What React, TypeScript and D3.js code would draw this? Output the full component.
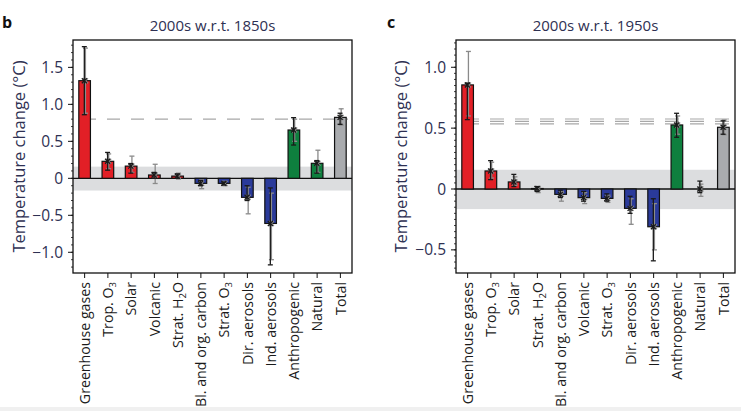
import React from 'react';
import * as d3 from 'd3';

// panel b: 2000s w.r.t. 1850s
const catsB = ['Greenhouse gases', 'Trop. O3', 'Solar', 'Volcanic', 'Strat. H2O', 'Bl. and org. carbon', 'Strat. O3', 'Dir. aerosols', 'Ind. aerosols', 'Anthropogenic', 'Natural', 'Total'];
const kindB = ['f', 'f', 'f', 'f', 'f', 'f', 'f', 'f', 'f', 's', 's', 't'];
const valB = [1.32, 0.23, 0.165, 0.045, 0.03, -0.068, -0.068, -0.257, -0.61, 0.653, 0.203, 0.824];
const blackLoB = [0.86, 0.11, 0.07, 0.0, 0.0, -0.1, -0.09, -0.3, -1.17, 0.45, 0.07, 0.73];
const blackHiB = [1.78, 0.35, 0.2, 0.08, 0.06, -0.03, -0.05, -0.1, -0.13, 0.82, 0.24, 0.88];
const greyLoB = [0.88, 0.13, 0.08, -0.07, -0.01, -0.14, -0.1, -0.48, -1.1, 0.5, 0.08, 0.72];
const greyHiB = [1.76, 0.33, 0.3, 0.19, 0.07, -0.02, -0.04, -0.12, -0.2, 0.8, 0.38, 0.94];
const obsB = [0.8];
const majorB = [-1, -0.5, 0, 0.5, 1, 1.5];
const majorLabelsB = ['\u22121.0', '\u22120.5', '0', '0.5', '1.0', '1.5'];

// panel c: 2000s w.r.t. 1950s
const catsC = ['Greenhouse gases', 'Trop. O3', 'Solar', 'Strat. H2O', 'Bl. and org. carbon', 'Volcanic', 'Strat. O3', 'Dir. aerosols', 'Ind. aerosols', 'Anthropogenic', 'Natural', 'Total'];
const kindC = ['f', 'f', 'f', 'f', 'f', 'f', 'f', 'f', 'f', 's', 's', 't'];
const valC = [0.855, 0.148, 0.058, 0.004, -0.044, -0.071, -0.077, -0.159, -0.31, 0.526, 0.0, 0.507];
const blackLoC = [0.57, 0.077, 0.02, -0.02, -0.07, -0.1, -0.1, -0.2, -0.59, 0.425, -0.03, 0.45];
const blackHiC = [0.87, 0.233, 0.12, 0.02, -0.01, -0.02, -0.04, -0.06, -0.08, 0.622, 0.065, 0.56];
const greyLoC = [0.6, 0.09, 0.03, -0.03, -0.1, -0.12, -0.11, -0.29, -0.5, 0.45, -0.06, 0.446];
const greyHiC = [1.13, 0.22, 0.1, 0.01, -0.02, -0.03, -0.05, -0.08, -0.12, 0.6, 0.04, 0.567];
const obsC = [0.575, 0.555, 0.535];
const majorC = [-0.5, 0, 0.5, 1];
const majorLabelsC = ['\u22120.5', '0', '0.5', '1.0'];

const band = [-0.165, 0.158];

const RED = '#e21f26';
const BLUE = '#2a3a9a';
const GREEN = '#0e7f3e';
const GREY = '#a9abae';
const TXT = '#2e3052';

const FONT = '"Open Sans", "Noto Sans", sans-serif';

function barColor(kind: string, v: number) {
  if (kind === 't') return GREY;
  if (kind === 's') return GREEN;
  return v >= 0 ? RED : BLUE;
}

function CatLabel({ name }: { name: string }) {
  const m = name.match(/^(.*?)(O3|H2O)$/);
  if (!m) return <>{name}</>;
  if (m[2] === 'O3')
    return (
      <>
        {m[1]}O<tspan fontSize={9.5} dy={3}>3</tspan>
      </>
    );
  return (
    <>
      {m[1]}H<tspan fontSize={9.5} dy={3}>2</tspan>
      <tspan dy={-3}>O</tspan>
    </>
  );
}

interface PanelProps {
  letter: string;
  letterX: number;
  title: string;
  x0: number;
  x1: number;
  domain: [number, number];
  cats: string[];
  kinds: string[];
  vals: number[];
  bLo: number[];
  bHi: number[];
  gLo: number[];
  gHi: number[];
  obs: number[];
  major: number[];
  majorLabels: string[];
  minorStep: number;
  dash: string;
  dashStart: number;
  labelX: number;
}

const Panel: React.FC<PanelProps> = (p) => {
  const top = 40;
  const bottom = 273;
  const y = d3.scaleLinear().domain(p.domain).range([bottom, top]);
  const x = d3.scaleBand().domain(p.cats).range([p.x0, p.x1]).padding(0);
  const bw = x.bandwidth() * 0.5;
  const cx = (c: string) => x(c)! + x.bandwidth() / 2;
  const minor = d3.range(Math.ceil(p.domain[0] / p.minorStep), Math.floor(p.domain[1] / p.minorStep) + 1).map((k) => k * p.minorStep);

  const errBar = (c: string, lo: number, hi: number, v: number, col: string, dx: number, key: string) => {
    const xc = cx(c) + dx;
    return (
      <g key={key} stroke={col} strokeWidth={1.3} fill="none">
        <line x1={xc} x2={xc} y1={y(lo)} y2={y(hi)} />
        <line x1={xc - 2.5} x2={xc + 2.5} y1={y(lo)} y2={y(lo)} />
        <line x1={xc - 2.5} x2={xc + 2.5} y1={y(hi)} y2={y(hi)} />
        <line x1={xc - 2.5} x2={xc + 2.5} y1={y(v) - 2.5} y2={y(v) + 2.5} />
        <line x1={xc - 2.5} x2={xc + 2.5} y1={y(v) + 2.5} y2={y(v) - 2.5} />
      </g>
    );
  };

  return (
    <g>
      <text x={p.letterX} y={28} fontFamily={FONT} fontWeight="bold" fontSize={16} fill="#111">
        {p.letter}
      </text>
      <text x={(p.x0 + p.x1) / 2} y={31} textAnchor="middle" fontFamily={FONT} fontSize={15} fill={TXT}>
        {p.title}
      </text>
      {/* grey band */}
      <rect x={p.x0} y={y(band[1])} width={p.x1 - p.x0} height={y(band[0]) - y(band[1])} fill="#dcdddf" />
      {/* observed lines */}
      {p.obs.map((o, i) => (
        <line key={'o' + i} x1={p.dashStart} x2={p.x1 - 4} y1={y(o)} y2={y(o)} stroke="#a8a8a8" strokeWidth={1.2} strokeDasharray={p.dash} />
      ))}
      <line x1={p.x0} x2={p.x1} y1={y(0)} y2={y(0)} stroke="#111" strokeWidth={1.3} />
      {/* bars */}
      {p.cats.map((c, i) => (
        <rect
          key={'b' + i}
          x={cx(c) - bw / 2}
          y={y(Math.max(0, p.vals[i]))}
          width={bw}
          height={Math.abs(y(p.vals[i]) - y(0))}
          fill={barColor(p.kinds[i], p.vals[i])}
          stroke="#111"
          strokeWidth={1.2}
        />
      ))}
      {p.cats.map((c, i) => errBar(c, p.gLo[i], p.gHi[i], p.vals[i], '#8a8a8a', 0.8, 'g' + i))}
      {p.cats.map((c, i) => errBar(c, p.bLo[i], p.bHi[i], p.vals[i], '#1a1a1a', -0.3, 'k' + i))}
      {/* frame */}
      <rect x={p.x0} y={top} width={p.x1 - p.x0} height={bottom - top} fill="none" stroke="#111" strokeWidth={1.3} />
      {/* y ticks */}
      {minor.map((t, i) => (
        <line key={'m' + i} x1={p.x0 - 2} x2={p.x0} y1={y(t)} y2={y(t)} stroke="#111" strokeWidth={0.8} />
      ))}
      {p.major.map((t, i) => (
        <g key={'M' + i}>
          <line x1={p.x0 - 5} x2={p.x0} y1={y(t)} y2={y(t)} stroke="#111" strokeWidth={1} />
          <text x={p.x0 - 10} y={y(t)} dy="0.36em" textAnchor="end" fontFamily={FONT} fontSize={15.5} fill={TXT}>
            {p.majorLabels[i]}
          </text>
        </g>
      ))}
      <text
        transform={`translate(${p.labelX},${(top + bottom) / 2}) rotate(-90)`}
        textAnchor="middle"
        dy="0.35em"
        fontFamily={FONT}
        fontSize={16.5}
        fill={TXT}
      >
        Temperature change (°C)
      </text>
      {/* x ticks */}
      {p.cats.map((c, i) => (
        <g key={'x' + i}>
          <line x1={cx(c)} x2={cx(c)} y1={bottom} y2={bottom + 5} stroke="#111" strokeWidth={1} />
          <text
            transform={`translate(${cx(c)},${bottom + 9}) rotate(-90)`}
            textAnchor="end"
            dy="0.36em"
            fontFamily={FONT}
            fontSize={14.2}
            fill="#1a1a1a"
          >
            <CatLabel name={c} />
          </text>
        </g>
      ))}
    </g>
  );
};

export default function App() {
  return (
    <svg width={741} height={411} style={{ position: 'absolute', left: 0, top: 0, background: '#fff' }}>
      <Panel
        letter="b"
        letterX={2}
        title="2000s w.r.t. 1850s"
        x0={73}
        x1={352}
        domain={[-1.28, 1.87]}
        cats={catsB}
        kinds={kindB}
        vals={valB}
        bLo={blackLoB}
        bHi={blackHiB}
        gLo={greyLoB}
        gHi={greyHiB}
        obs={obsB}
        major={majorB}
        majorLabels={majorLabelsB}
        minorStep={0.1}
        dash="13,11"
        dashStart={83}
        labelX={19}
      />
      <Panel
        letter="c"
        letterX={387}
        title="2000s w.r.t. 1950s"
        x0={456}
        x1={735}
        domain={[-0.69, 1.224]}
        cats={catsC}
        kinds={kindC}
        vals={valC}
        bLo={blackLoC}
        bHi={blackHiC}
        gLo={greyLoC}
        gHi={greyHiC}
        obs={obsC}
        major={majorC}
        majorLabels={majorLabelsC}
        minorStep={0.05}
        dash="14,11"
        dashStart={465}
        labelX={401}
      />
      <rect x={0} y={407} width={741} height={4} fill="#f0f0f0" />
    </svg>
  );
}
